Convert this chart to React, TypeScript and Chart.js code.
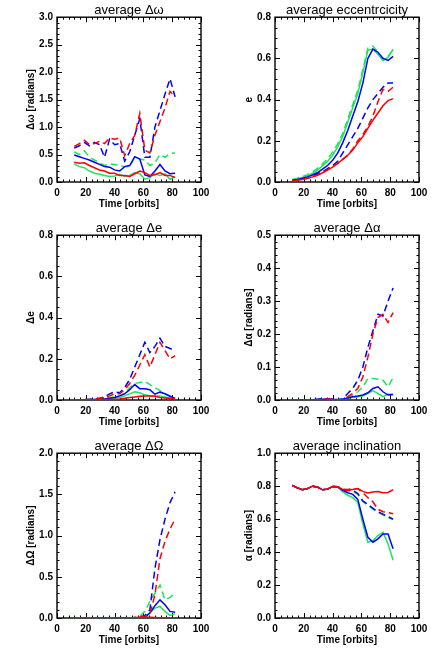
import React, { useEffect, useRef } from 'react';
import { Chart, registerables } from 'chart.js';

Chart.register(...registerables);

// ---------- data ----------
const TIME = [12, 15.5, 19, 22.5, 26, 29.5, 33, 36.5, 40, 43.5, 47, 50.5, 54, 57.5, 61, 64.5, 68, 71.5, 75, 78.5, 82];
const X_TICK_STEP = 20;

// average Δω
const dwRed = [0.36, 0.34, 0.35, 0.30, 0.26, 0.22, 0.20, 0.16, 0.16, 0.12, 0.12, 0.10, 0.15, 0.20, 0.17, 0.12, 0.13, 0.17, 0.12, 0.12, 0.08];
const dwGreen = [0.33, 0.28, 0.26, 0.20, 0.16, 0.14, 0.12, 0.10, 0.11, 0.14, 0.10, 0.12, 0.17, 0.15, 0.05, 0.08, 0.15, 0.12, 0.15, 0.05, 0.10];
const dwBlue = [0.49, 0.46, 0.43, 0.40, 0.36, 0.32, 0.28, 0.27, 0.22, 0.20, 0.28, 0.30, 0.46, 0.42, 0.13, 0.10, 0.20, 0.32, 0.20, 0.15, 0.16];
const dwRedD = [0.65, 0.70, 0.76, 0.68, 0.70, 0.74, 0.70, 0.80, 0.78, 0.80, 0.48, 0.70, 0.85, 1.25, 0.58, 0.53, 0.85, 1.10, 1.35, 1.65, 1.55];
const dwGreenD = [0.55, 0.50, 0.57, 0.45, 0.40, 0.35, 0.30, 0.33, 0.32, 0.30, 0.28, 0.28, 0.45, 0.42, 0.40, 0.30, 0.35, 0.50, 0.45, 0.52, 0.53];
const dwBlueD = [0.62, 0.66, 0.72, 0.66, 0.72, 0.68, 0.45, 0.78, 0.68, 0.70, 0.38, 0.55, 0.85, 1.15, 0.45, 0.45, 1.00, 1.30, 1.60, 1.88, 1.55];

// average eccentricity
const eRed = [0.005, 0.008, 0.012, 0.018, 0.025, 0.033, 0.045, 0.058, 0.072, 0.09, 0.11, 0.13, 0.155, 0.19, 0.22, 0.26, 0.30, 0.335, 0.37, 0.395, 0.405];
const eGreen = [0.01, 0.015, 0.022, 0.03, 0.042, 0.058, 0.078, 0.10, 0.13, 0.17, 0.22, 0.29, 0.36, 0.43, 0.53, 0.64, 0.645, 0.62, 0.59, 0.605, 0.645];
const eBlue = [0.008, 0.012, 0.018, 0.025, 0.034, 0.046, 0.062, 0.08, 0.105, 0.14, 0.19, 0.25, 0.32, 0.39, 0.48, 0.60, 0.645, 0.63, 0.60, 0.59, 0.61];
const eRedD = [0.005, 0.008, 0.012, 0.018, 0.025, 0.034, 0.046, 0.06, 0.075, 0.09, 0.11, 0.13, 0.16, 0.20, 0.23, 0.27, 0.32, 0.39, 0.45, 0.44, 0.46];
const eGreenD = [0.012, 0.018, 0.026, 0.036, 0.05, 0.066, 0.088, 0.112, 0.145, 0.185, 0.235, 0.305, 0.375, 0.445, 0.545, 0.65, 0.66, 0.63, 0.60, 0.61, 0.64];
const eBlueD = [0.005, 0.01, 0.015, 0.02, 0.03, 0.04, 0.05, 0.065, 0.08, 0.10, 0.14, 0.18, 0.22, 0.26, 0.31, 0.36, 0.40, 0.43, 0.46, 0.48, 0.48];

// average Δe
const deRed = [0, 0, 0, 0.001, 0.001, 0.002, 0.002, 0.003, 0.003, 0.005, 0.008, 0.012, 0.015, 0.018, 0.02, 0.02, 0.018, 0.012, 0.01, 0.008, 0.005];
const deGreen = [0, 0, 0, 0.001, 0.002, 0.003, 0.004, 0.006, 0.008, 0.012, 0.02, 0.03, 0.04, 0.035, 0.025, 0.02, 0.02, 0.02, 0.015, 0.01, 0.008];
const deBlue = [0, 0, 0.001, 0.002, 0.003, 0.004, 0.005, 0.008, 0.012, 0.02, 0.03, 0.05, 0.075, 0.055, 0.055, 0.05, 0.028, 0.038, 0.03, 0.018, 0.008];
const deRedD = [0, 0, 0.002, 0.003, 0.005, 0.008, 0.012, 0.02, 0.03, 0.03, 0.05, 0.08, 0.12, 0.17, 0.22, 0.16, 0.22, 0.28, 0.24, 0.20, 0.215];
const deGreenD = [0, 0, 0.001, 0.002, 0.003, 0.005, 0.008, 0.012, 0.015, 0.02, 0.035, 0.06, 0.08, 0.085, 0.09, 0.075, 0.06, 0.045, 0.03, 0.02, 0.015];
const deBlueD = [0, 0, 0.002, 0.003, 0.005, 0.008, 0.015, 0.03, 0.04, 0.035, 0.06, 0.10, 0.16, 0.22, 0.28, 0.23, 0.26, 0.30, 0.26, 0.25, 0.24];

// average Δα
const daRed = [0, 0, 0, 0, 0, 0, 0, 0, 0, 0, 0, 0, 0, 0, 0, 0, 0, 0, 0, 0, 0];
const daGreen = [0, 0, 0, 0, 0, 0, 0.001, 0.002, 0.001, 0.001, 0.002, 0.005, 0.008, 0.01, 0.012, 0.02, 0.028, 0.02, 0.01, 0.018, 0.017];
const daBlue = [0, 0, 0, 0, 0.001, 0.001, 0.002, 0.003, 0.002, 0.001, 0.002, 0.006, 0.01, 0.012, 0.015, 0.022, 0.035, 0.04, 0.025, 0.015, 0.017];
const daRedD = [0, 0, 0, 0, 0.001, 0.001, 0.002, 0.003, 0.002, 0.001, 0.001, 0.01, 0.02, 0.035, 0.07, 0.13, 0.20, 0.25, 0.26, 0.235, 0.265];
const daGreenD = [0, 0, 0, 0, 0.001, 0.002, 0.003, 0.002, 0.002, 0.001, 0.002, 0.005, 0.015, 0.025, 0.04, 0.065, 0.065, 0.063, 0.06, 0.04, 0.068];
const daBlueD = [0, 0, 0, 0, 0.001, 0.002, 0.003, 0.004, 0.002, 0.001, 0.003, 0.02, 0.035, 0.06, 0.10, 0.16, 0.21, 0.26, 0.255, 0.30, 0.34];

// average ΔΩ
const dORed = [0, 0, 0, 0, 0, 0, 0, 0, 0, 0, 0, 0.002, 0.004, 0.008, 0.01, 0.01, 0.006, 0.003, 0.002, 0.001, 0];
const dOGreen = [0, 0, 0, 0, 0, 0, 0, 0, 0, 0, 0, 0, 0, 0.002, 0.01, 0.06, 0.12, 0.14, 0.08, 0.03, 0.05];
const dOBlue = [0, 0, 0, 0, 0, 0, 0, 0, 0, 0, 0, 0, 0.002, 0.005, 0.01, 0.06, 0.15, 0.22, 0.16, 0.08, 0.07];
const dORedD = [0, 0, 0, 0, 0, 0, 0, 0, 0, 0, 0, 0, 0.005, 0.01, 0.02, 0.05, 0.28, 0.72, 0.93, 1.08, 1.20];
const dOGreenD = [0, 0, 0, 0, 0, 0, 0, 0, 0, 0, 0, 0, 0.005, 0.02, 0.08, 0.20, 0.30, 0.40, 0.22, 0.25, 0.30];
const dOBlueD = [0, 0, 0, 0, 0, 0, 0, 0, 0, 0, 0, 0, 0.005, 0.01, 0.03, 0.10, 0.60, 0.95, 1.20, 1.40, 1.53];

// average inclination
const inRed = [0.805, 0.79, 0.778, 0.785, 0.80, 0.795, 0.778, 0.782, 0.798, 0.797, 0.78, 0.775, 0.78, 0.785, 0.768, 0.758, 0.765, 0.768, 0.76, 0.762, 0.778];
const inGreen = [0.805, 0.79, 0.778, 0.785, 0.80, 0.795, 0.778, 0.782, 0.798, 0.795, 0.765, 0.745, 0.73, 0.70, 0.57, 0.46, 0.47, 0.50, 0.52, 0.45, 0.35];
const inBlue = [0.805, 0.79, 0.778, 0.785, 0.80, 0.795, 0.778, 0.782, 0.798, 0.796, 0.775, 0.76, 0.75, 0.72, 0.60, 0.49, 0.46, 0.48, 0.51, 0.51, 0.42];
const inRedD = [0.805, 0.79, 0.778, 0.785, 0.80, 0.795, 0.778, 0.782, 0.798, 0.797, 0.782, 0.78, 0.785, 0.785, 0.76, 0.73, 0.705, 0.66, 0.645, 0.64, 0.632];
const inGreenD = [0.805, 0.79, 0.778, 0.785, 0.80, 0.795, 0.778, 0.782, 0.798, 0.797, 0.778, 0.77, 0.77, 0.75, 0.705, 0.685, 0.66, 0.64, 0.625, 0.61, 0.597];
const inBlueD = [0.805, 0.79, 0.778, 0.785, 0.80, 0.795, 0.778, 0.782, 0.798, 0.797, 0.78, 0.775, 0.775, 0.755, 0.71, 0.69, 0.665, 0.645, 0.63, 0.615, 0.60];

// ---------- styling ----------
const RED = '#ff0000';
const GREEN = '#22e25c';
const BLUE = '#0000ff';
const FONT = "'Liberation Sans', Arial, sans-serif";

type Panel = {
  title: string;
  yLabel: string;
  yMax: number;
  yStep: number;
  yMinorStep: number;
  red: number[]; green: number[]; blue: number[];
  redD: number[]; greenD: number[]; blueD: number[];
};

const PANELS: Panel[] = [
  { title: 'average Δω', yLabel: 'Δω [radians]', yMax: 3, yStep: 0.5, yMinorStep: 0.1,
    red: dwRed, green: dwGreen, blue: dwBlue, redD: dwRedD, greenD: dwGreenD, blueD: dwBlueD },
  { title: 'average eccentrcicity', yLabel: 'e', yMax: 0.8, yStep: 0.2, yMinorStep: 0.05,
    red: eRed, green: eGreen, blue: eBlue, redD: eRedD, greenD: eGreenD, blueD: eBlueD },
  { title: 'average Δe', yLabel: 'Δe', yMax: 0.8, yStep: 0.2, yMinorStep: 0.05,
    red: deRed, green: deGreen, blue: deBlue, redD: deRedD, greenD: deGreenD, blueD: deBlueD },
  { title: 'average Δα', yLabel: 'Δα [radians]', yMax: 0.5, yStep: 0.1, yMinorStep: 0.02,
    red: daRed, green: daGreen, blue: daBlue, redD: daRedD, greenD: daGreenD, blueD: daBlueD },
  { title: 'average ΔΩ', yLabel: 'ΔΩ [radians]', yMax: 2, yStep: 0.5, yMinorStep: 0.1,
    red: dORed, green: dOGreen, blue: dOBlue, redD: dORedD, greenD: dOGreenD, blueD: dOBlueD },
  { title: 'average inclination', yLabel: 'α [radians]', yMax: 1, yStep: 0.2, yMinorStep: 0.05,
    red: inRed, green: inGreen, blue: inBlue, redD: inRedD, greenD: inGreenD, blueD: inBlueD },
];

// IDL-style frame: box with inward major/minor ticks on all four sides
const idlFrame = {
  id: 'idlFrame',
  beforeDatasetsDraw(chart: any, _args: any, opts: any) {
    const { ctx, chartArea: ca, scales } = chart;
    const xs = scales.x;
    const ys = scales.y;
    ctx.save();
    ctx.strokeStyle = '#000';
    ctx.lineWidth = 1.4;
    ctx.strokeRect(ca.left, ca.top, ca.right - ca.left, ca.bottom - ca.top);
    ctx.lineWidth = 1;
    ctx.beginPath();
    const xn = Math.round((xs.max - xs.min) / opts.xMinorStep);
    const xPer = Math.round(opts.xStep / opts.xMinorStep);
    for (let i = 0; i <= xn; i++) {
      const v = xs.min + i * opts.xMinorStep;
      const p = Math.round(xs.getPixelForValue(v)) + 0.5;
      const len = i % xPer === 0 ? 5 : 2.5;
      ctx.moveTo(p, ca.bottom); ctx.lineTo(p, ca.bottom - len);
      ctx.moveTo(p, ca.top); ctx.lineTo(p, ca.top + len);
    }
    const yn = Math.round((ys.max - ys.min) / opts.yMinorStep);
    const yPer = Math.round(opts.yStep / opts.yMinorStep);
    for (let i = 0; i <= yn; i++) {
      const v = ys.min + i * opts.yMinorStep;
      const p = Math.round(ys.getPixelForValue(v)) + 0.5;
      const len = i % yPer === 0 ? 5 : 2.5;
      ctx.moveTo(ca.left, p); ctx.lineTo(ca.left + len, p);
      ctx.moveTo(ca.right, p); ctx.lineTo(ca.right - len, p);
    }
    ctx.stroke();
    ctx.restore();
  },
};

function line(values: number[], color: string, dashed: boolean) {
  return {
    data: TIME.map((t, i) => ({ x: t, y: values[i] })),
    borderColor: color,
    backgroundColor: color,
    borderWidth: 1.5,
    borderDash: dashed ? [7, 4] : [],
    pointRadius: 0,
    tension: 0,
    fill: false,
  };
}

function PanelChart({ panel }: { panel: Panel }) {
  const ref = useRef<HTMLCanvasElement | null>(null);
  useEffect(() => {
    if (!ref.current) return;
    const tickFont = { family: FONT, size: 10, weight: 'bold' as const };
    const chart = new Chart(ref.current, {
      type: 'line',
      data: {
        datasets: [
          line(panel.red, RED, false),
          line(panel.redD, RED, true),
          line(panel.blueD, BLUE, true),
          line(panel.blue, BLUE, false),
          line(panel.greenD, GREEN, true),
          line(panel.green, GREEN, false),
        ] as any,
      },
      options: {
        responsive: false,
        animation: false,
        layout: { padding: { left: 0, right: 17, top: 0, bottom: 0 } },
        plugins: {
          legend: { display: false },
          tooltip: { enabled: false },
          title: {
            display: true,
            text: panel.title,
            fullSize: false,
            color: '#000',
            font: { family: FONT, size: 13, weight: 'normal', lineHeight: 1.1 },
            padding: { top: 2.9, bottom: 0 },
          },
          idlFrame: { xStep: X_TICK_STEP, xMinorStep: 4, yStep: panel.yStep, yMinorStep: panel.yMinorStep },
        } as any,
        scales: {
          x: {
            type: 'linear',
            min: 0,
            max: 100,
            grid: { display: false, drawTicks: false },
            border: { display: false },
            ticks: { stepSize: X_TICK_STEP, color: '#000', font: tickFont, padding: 5, maxRotation: 0, autoSkip: false },
            title: { display: true, text: 'Time [orbits]', color: '#000', font: tickFont, padding: { top: 0, bottom: 8 } },
            afterFit: (s: any) => { s.height = 36; },
          },
          y: {
            type: 'linear',
            min: 0,
            max: panel.yMax,
            grid: { display: false, drawTicks: false },
            border: { display: false },
            ticks: {
              stepSize: panel.yStep,
              color: '#000',
              font: tickFont,
              padding: 4,
              autoSkip: false,
              callback: (v: any) => Number(v).toFixed(1),
            },
            title: { display: true, text: panel.yLabel, color: '#000', font: tickFont, padding: { top: 25, bottom: 0 } },
            afterFit: (s: any) => { s.width = 57; },
          },
        },
      },
      plugins: [idlFrame],
    });
    return () => chart.destroy();
  }, [panel]);
  return <canvas ref={ref} width={218} height={218} style={{ display: 'block', width: 218, height: 218 }} />;
}

export default function App() {
  return (
    <div
      style={{
        position: 'absolute',
        left: 0,
        top: 0,
        width: 436,
        height: 655,
        background: '#fff',
        display: 'grid',
        gridTemplateColumns: '218px 218px',
        gridAutoRows: '218px',
      }}
    >
      {PANELS.map((p, i) => (
        <PanelChart key={i} panel={p} />
      ))}
    </div>
  );
}
